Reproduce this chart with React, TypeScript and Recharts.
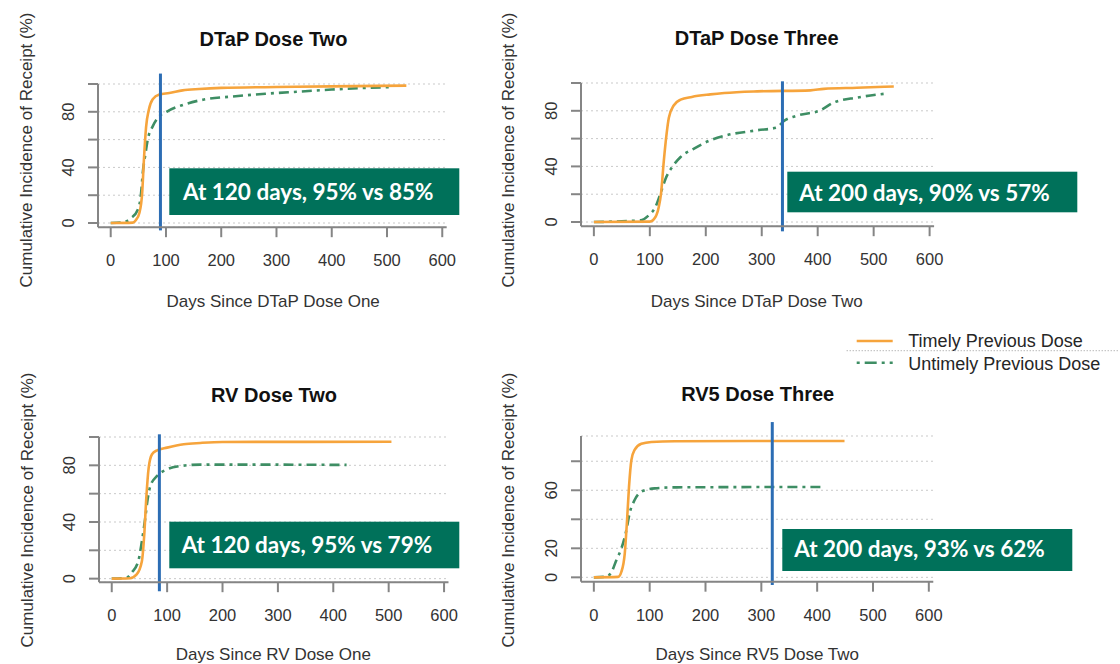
import React from 'react';
import { LineChart, Line, XAxis, YAxis, CartesianGrid, ReferenceLine } from 'recharts';

const dayTicks = [0, 100, 200, 300, 400, 500, 600];
const pctTicks = [0, 20, 40, 60, 80, 100];
const pctLabels = [0, 40, 80];
const rv5PctTicks = [0, 20, 40, 60, 80];
const rv5PctLabels = [0, 20, 60];

// [days, cumulative incidence %]
const dtap2Timely = [
  [0, 0], [40, 0.3], [46, 2.4], [52, 7.4], [57, 22], [60, 45], [64, 69], [69, 81.5], [76, 89],
  [88, 92.5], [106, 93.5], [130, 95.4], [160, 96.4], [200, 97.2], [300, 97.8], [400, 98.3], [535, 98.8],
];
const dtap2Untimely = [
  [0, 0], [22, 0.5], [37, 3.6], [49, 9.6], [55, 21.6], [58, 36], [63, 50], [67, 60], [76, 69.5],
  [85, 75.5], [101, 80], [131, 85], [167, 88.7], [220, 91], [280, 93], [340, 94.5], [400, 96], [450, 97], [508, 97.8],
];
const dtap3Timely = [
  [0, 0], [100, 0.3], [110, 3.6], [116, 10.8], [120, 20.4], [125, 44], [130, 63.6], [134, 75], [143, 84],
  [155, 88], [175, 90], [208, 91.8], [233, 92.8], [292, 94], [387, 94.7], [411, 95.8], [470, 96.6], [536, 97.5],
];
const dtap3Untimely = [
  [0, 0], [83, 1.2], [98, 4.8], [110, 10.8], [119, 20.4], [128, 31], [140, 39.6], [155, 46.8], [179, 52.8],
  [208, 58.8], [233, 62], [292, 66], [327, 68], [339, 72.5], [363, 76.5], [405, 80.4], [429, 86], [470, 89.5], [518, 92.2],
];
const rv2Timely = [
  [0, 0], [33, 0.3], [45, 3], [54.5, 12.5], [58.7, 31], [62.4, 57], [66.6, 78], [72.7, 87.8], [81.8, 90.6],
  [100, 92.5], [130, 94.9], [160, 95.8], [200, 96.5], [505, 96.6],
];
const rv2Untimely = [
  [0, 0], [27, 0.7], [36, 4.2], [48, 12.5], [54.5, 26.6], [60.6, 43], [64.8, 56], [69.7, 65.4], [81.8, 72.5],
  [100, 77.2], [124, 79.5], [160, 80.5], [250, 80.5], [424, 80.3],
];
const rv5Timely = [
  [0, 0], [43.5, 0.3], [49.4, 3.9], [55.4, 16.5], [59.5, 39.5], [63, 62.5], [67.3, 80.9], [73, 87.8],
  [85, 92], [103, 93.3], [145, 93.8], [449, 94],
];
const rv5Untimely = [
  [0, 0], [23, 0.5], [32, 3.9], [40.5, 12], [49.4, 20], [58.3, 32.6], [64, 44], [73, 53.3], [85, 59],
  [109, 61.3], [145, 62], [410, 62.3],
];

// vertical marker: day, bottom %, top %
const dtap2Marker = [90, -5.3, 107.5];
const dtap3Marker = [337, -6.7, 101.2];
const rv2Marker = [86, -8.9, 101.9];
const rv5Marker = [319.6, -5.3, 107];

const FONT = '"Liberation Sans", Arial, sans-serif';
const NOTE_FONT = 'Lato, "Open Sans", sans-serif';
const ORANGE = '#F6A43C';
const GREEN = '#3E8E64';
const BLUE = '#2C6DB4';
const AXIS = '#858585';
const BOX = '#00715A';

const toPts = (arr: number[][]) => arr.map(([x, y]) => ({ x, y }));

const panels = [
  {
    title: 'DTaP Dose Two', xLabel: 'Days Since DTaP Dose One', note: 'At 120 days, 95% vs 85%',
    timely: dtap2Timely, untimely: dtap2Untimely, marker: dtap2Marker,
    plot: [98.3, 84.3, 348.7, 143.2], yDomain: [-3, 100], yTicks: pctTicks, yLabels: pctLabels,
    titlePos: [273.5, 46], xLabelPos: [273.2, 307.3], yLabelPos: [32, 150],
    box: [169.3, 168.3, 290, 46.7], notePos: [183, 200],
  },
  {
    title: 'DTaP Dose Three', xLabel: 'Days Since DTaP Dose Two', note: 'At 200 days, 90% vs 57%',
    timely: dtap3Timely, untimely: dtap3Untimely, marker: dtap3Marker,
    plot: [580.7, 82.7, 353.1, 143.2], yDomain: [-3, 100], yTicks: pctTicks, yLabels: pctLabels,
    titlePos: [756.7, 45.3], xLabelPos: [756.7, 307.3], yLabelPos: [514, 150],
    box: [787.3, 171.7, 290, 40.6], notePos: [799.3, 200.5],
  },
  {
    title: 'RV Dose Two', xLabel: 'Days Since RV Dose One', note: 'At 120 days, 95% vs 79%',
    timely: rv2Timely, untimely: rv2Untimely, marker: rv2Marker,
    plot: [99, 436.7, 349.5, 145.2], yDomain: [-2.5, 100], yTicks: pctTicks, yLabels: pctLabels,
    titlePos: [274, 401.5], xLabelPos: [273.3, 659.5], yLabelPos: [33, 510],
    box: [169.3, 521.7, 290, 46.6], notePos: [181.7, 552.7],
  },
  {
    title: 'RV5 Dose Three', xLabel: 'Days Since RV5 Dose Two', note: 'At 200 days, 93% vs 62%',
    timely: rv5Timely, untimely: rv5Untimely, marker: rv5Marker,
    plot: [581.2, 436, 352.3, 145.7], yDomain: [-3, 97.4], yTicks: rv5PctTicks, yLabels: rv5PctLabels,
    titlePos: [757.7, 400.7], xLabelPos: [757.3, 659.5], yLabelPos: [514, 510],
    box: [782.3, 529, 290, 42], notePos: [794.3, 557],
  },
];

function Panel({ p }: { p: any }) {
  const [L, T, W, H] = p.plot;
  const m = { top: 50, right: 20, left: 0, bottom: 0 };

  const yTick = (props: any) => {
    const { x, y, payload } = props;
    if (!p.yLabels.includes(payload.value)) return <g />;
    const cx = x - 20;
    return (
      <text x={cx} y={y} transform={`rotate(-90 ${cx} ${y})`} textAnchor='middle' dominantBaseline='central'
        fontSize={16.5} fill='#333' fontFamily={FONT}>
        {payload.value}
      </text>
    );
  };
  const xTick = (props: any) => {
    const { x, y, payload } = props;
    return (
      <text x={x} y={y + 23} textAnchor='middle' dominantBaseline='central' fontSize={16.5} fill='#333' fontFamily={FONT}>
        {payload.value}
      </text>
    );
  };

  const [day, lo, hi] = p.marker;

  return (
    <div style={{ position: 'absolute', left: L - 100, top: T - m.top }}>
      <LineChart width={W + 120} height={H + m.top + 60} margin={m}>
        <CartesianGrid horizontal vertical={false} stroke='#c9c9c9' strokeDasharray='2 3' />
        <XAxis type='number' dataKey='x' domain={[-23, 608]} ticks={dayTicks} allowDataOverflow
          height={60} tickSize={10} tickMargin={0} tick={xTick}
          axisLine={{ stroke: AXIS, strokeWidth: 2 }} tickLine={{ stroke: AXIS, strokeWidth: 2 }} />
        <YAxis type='number' domain={p.yDomain} ticks={p.yTicks} allowDataOverflow
          width={100} tickSize={10} tickMargin={0} tick={yTick}
          axisLine={{ stroke: AXIS, strokeWidth: 2 }} tickLine={{ stroke: AXIS, strokeWidth: 2 }} />
        <Line data={toPts(p.untimely)} dataKey='y' type='monotone' stroke={GREEN} strokeWidth={2.6}
          strokeDasharray='10 5 3 5' dot={false} activeDot={false} isAnimationActive={false} />
        <Line data={toPts(p.timely)} dataKey='y' type='monotone' stroke={ORANGE} strokeWidth={2.6}
          dot={false} activeDot={false} isAnimationActive={false} />
        <ReferenceLine segment={[{ x: day, y: lo }, { x: day, y: hi }]} stroke={BLUE} strokeWidth={3}
          ifOverflow='visible' />
      </LineChart>
    </div>
  );
}

export default function App() {
  return (
    <div style={{ position: 'absolute', left: 0, top: 0, width: 1120, height: 664, background: '#fff', overflow: 'hidden' }}>
      {panels.map((p) => <Panel key={p.title} p={p} />)}
      <svg width={1120} height={664} style={{ position: 'absolute', left: 0, top: 0, pointerEvents: 'none' }}>
        {panels.map((p) => (
          <g key={p.title}>
            <text x={p.titlePos[0]} y={p.titlePos[1]} textAnchor='middle' fontFamily={FONT} fontWeight='bold'
              fontSize={20} fill='#111'>{p.title}</text>
            <text x={p.xLabelPos[0]} y={p.xLabelPos[1]} textAnchor='middle' fontFamily={FONT} fontSize={17}
              fill='#333'>{p.xLabel}</text>
            <text x={p.yLabelPos[0]} y={p.yLabelPos[1]} textAnchor='middle' fontFamily={FONT} fontSize={17}
              fill='#333' transform={`rotate(-90 ${p.yLabelPos[0]} ${p.yLabelPos[1]})`}>
              Cumulative Incidence of Receipt (%)
            </text>
            <rect x={p.box[0]} y={p.box[1]} width={p.box[2]} height={p.box[3]} fill={BOX} />
            <text x={p.notePos[0]} y={p.notePos[1]} fontFamily={NOTE_FONT} fontWeight={700} fontSize={22.5}
              fill='#fff'>{p.note}</text>
          </g>
        ))}
        <line x1={856.7} x2={892.7} y1={341} y2={341} stroke={ORANGE} strokeWidth={2.6} />
        <text x={908.3} y={347.3} fontFamily={FONT} fontSize={18} fill='#262626'>Timely Previous Dose</text>
        <line x1={846.7} x2={1118} y1={350.7} y2={350.7} stroke='#999' strokeWidth={1} strokeDasharray='1 2' />
        <line x1={856.7} x2={892.7} y1={362.7} y2={362.7} stroke={GREEN} strokeWidth={2.6} strokeDasharray='3 5 12 5' />
        <text x={908.3} y={370} fontFamily={FONT} fontSize={18} fill='#262626'>Untimely Previous Dose</text>
      </svg>
    </div>
  );
}
